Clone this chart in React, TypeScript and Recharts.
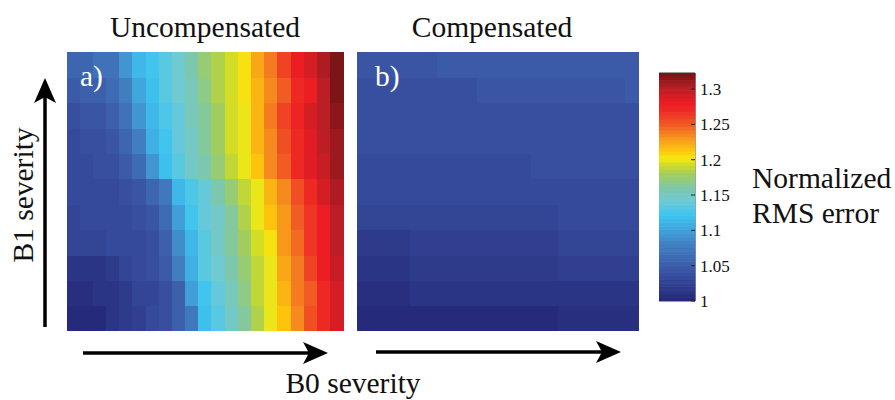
import React from 'react'
import { BarChart, Bar, Cell, XAxis, YAxis, ReferenceArea } from 'recharts'

const FONT = "'Liberation Serif', LiberationSerif, Tinos, 'Nimbus Roman', 'Nimbus Roman No9 L', FreeSerif, 'Noto Serif', 'DejaVu Serif', Times, 'Times New Roman', serif"

// colour scale of the figure (jet, print colours)
const CMAP_MIN = 1
const CMAP_MAX = 1.3227
const CMAP_LEVELS = 64
const cbTicks = [1, 1.05, 1.1, 1.15, 1.2, 1.25, 1.3]

const jetStops: [number, string][] = [
  [0.0, '#262a7a'],
  [0.125, '#3a54a4'],
  [0.25, '#4182c3'],
  [0.33, '#40aee3'],
  [0.375, '#3dc5f0'],
  [0.44, '#6ecad6'],
  [0.5, '#7fc8a6'],
  [0.56, '#a4cd5a'],
  [0.6, '#cfdb27'],
  [0.625, '#f4ea14'],
  [0.66, '#fec90b'],
  [0.72, '#f7941d'],
  [0.78, '#f15a24'],
  [0.84, '#ee2a24'],
  [0.875, '#ed1c24'],
  [0.94, '#b81e25'],
  [1.0, '#7c1517'],
]

// B0 severity steps (columns)
const b0Levels = ['1', '2', '3', '4', '5', '6', '7', '8', '9', '10', '11', '12', '13', '14', '15', '16', '17', '18', '19', '20', '21']

// normalized RMS error, rows listed from the top (highest B1) to the bottom
const uncompensated = [
  [1.060, 1.060, 1.068, 1.070, 1.095, 1.112, 1.125, 1.135, 1.145, 1.158, 1.172, 1.185, 1.195, 1.205, 1.222, 1.242, 1.260, 1.278, 1.288, 1.305, 1.322],
  [1.050, 1.052, 1.054, 1.062, 1.078, 1.105, 1.118, 1.132, 1.142, 1.155, 1.168, 1.182, 1.194, 1.202, 1.218, 1.235, 1.252, 1.268, 1.282, 1.302, 1.320],
  [1.040, 1.042, 1.045, 1.055, 1.066, 1.092, 1.115, 1.128, 1.140, 1.152, 1.165, 1.180, 1.192, 1.200, 1.220, 1.240, 1.258, 1.274, 1.288, 1.300, 1.315],
  [1.035, 1.037, 1.040, 1.045, 1.058, 1.080, 1.110, 1.125, 1.138, 1.150, 1.163, 1.178, 1.192, 1.201, 1.218, 1.235, 1.255, 1.270, 1.285, 1.298, 1.312],
  [1.033, 1.034, 1.036, 1.040, 1.048, 1.062, 1.095, 1.118, 1.135, 1.148, 1.160, 1.175, 1.190, 1.200, 1.215, 1.232, 1.250, 1.268, 1.284, 1.296, 1.310],
  [1.033, 1.033, 1.034, 1.034, 1.036, 1.044, 1.058, 1.075, 1.113, 1.130, 1.140, 1.157, 1.172, 1.188, 1.200, 1.218, 1.234, 1.255, 1.270, 1.290, 1.305],
  [1.030, 1.031, 1.032, 1.033, 1.034, 1.036, 1.045, 1.062, 1.098, 1.122, 1.138, 1.150, 1.165, 1.185, 1.197, 1.212, 1.228, 1.250, 1.265, 1.282, 1.300],
  [1.030, 1.030, 1.030, 1.031, 1.032, 1.033, 1.040, 1.053, 1.088, 1.115, 1.135, 1.147, 1.162, 1.180, 1.194, 1.205, 1.228, 1.243, 1.265, 1.280, 1.298],
  [1.012, 1.012, 1.015, 1.020, 1.030, 1.032, 1.036, 1.050, 1.078, 1.110, 1.132, 1.143, 1.157, 1.176, 1.190, 1.200, 1.222, 1.237, 1.258, 1.280, 1.293],
  [1.009, 1.009, 1.012, 1.015, 1.020, 1.026, 1.030, 1.040, 1.052, 1.100, 1.123, 1.138, 1.152, 1.167, 1.187, 1.200, 1.218, 1.237, 1.252, 1.270, 1.292],
  [1.003, 1.004, 1.005, 1.013, 1.018, 1.025, 1.032, 1.038, 1.052, 1.072, 1.117, 1.133, 1.147, 1.165, 1.185, 1.200, 1.212, 1.232, 1.253, 1.270, 1.288],
]

const compensated = [
  [1.042, 1.042, 1.042, 1.042, 1.042, 1.042, 1.046, 1.046, 1.046, 1.046, 1.046, 1.046, 1.046, 1.046, 1.046, 1.046, 1.046, 1.046, 1.050, 1.050, 1.050],
  [1.040, 1.040, 1.040, 1.040, 1.040, 1.040, 1.040, 1.040, 1.040, 1.044, 1.044, 1.044, 1.044, 1.044, 1.044, 1.044, 1.044, 1.044, 1.044, 1.044, 1.047],
  [1.038, 1.038, 1.038, 1.038, 1.038, 1.038, 1.038, 1.038, 1.038, 1.039, 1.039, 1.039, 1.039, 1.039, 1.039, 1.039, 1.039, 1.039, 1.039, 1.039, 1.039],
  [1.036, 1.036, 1.036, 1.036, 1.036, 1.036, 1.036, 1.036, 1.036, 1.037, 1.037, 1.037, 1.037, 1.037, 1.037, 1.037, 1.037, 1.037, 1.037, 1.037, 1.037],
  [1.034, 1.034, 1.034, 1.034, 1.034, 1.034, 1.034, 1.034, 1.034, 1.034, 1.034, 1.034, 1.034, 1.036, 1.036, 1.036, 1.036, 1.036, 1.036, 1.036, 1.036],
  [1.032, 1.032, 1.032, 1.032, 1.032, 1.032, 1.032, 1.032, 1.032, 1.032, 1.032, 1.032, 1.032, 1.032, 1.035, 1.035, 1.035, 1.035, 1.035, 1.035, 1.035],
  [1.030, 1.030, 1.030, 1.030, 1.030, 1.030, 1.030, 1.030, 1.030, 1.030, 1.030, 1.030, 1.030, 1.030, 1.030, 1.033, 1.033, 1.033, 1.033, 1.033, 1.033],
  [1.018, 1.018, 1.018, 1.018, 1.024, 1.024, 1.024, 1.024, 1.024, 1.024, 1.024, 1.024, 1.024, 1.024, 1.024, 1.030, 1.030, 1.030, 1.030, 1.030, 1.030],
  [1.013, 1.013, 1.013, 1.013, 1.018, 1.018, 1.018, 1.018, 1.018, 1.018, 1.018, 1.018, 1.018, 1.018, 1.018, 1.024, 1.024, 1.024, 1.024, 1.024, 1.024],
  [1.008, 1.008, 1.008, 1.008, 1.011, 1.011, 1.011, 1.011, 1.011, 1.011, 1.011, 1.011, 1.011, 1.011, 1.011, 1.014, 1.014, 1.014, 1.014, 1.014, 1.014],
  [1.005, 1.005, 1.005, 1.005, 1.005, 1.005, 1.005, 1.005, 1.005, 1.005, 1.005, 1.005, 1.005, 1.005, 1.005, 1.009, 1.009, 1.009, 1.009, 1.009, 1.009],
]

function hexToRgb(h: string) {
  const n = parseInt(h.slice(1), 16)
  return [(n >> 16) & 255, (n >> 8) & 255, n & 255]
}

function jet(t: number) {
  const x = Math.max(0, Math.min(1, t))
  for (let i = 1; i < jetStops.length; i++) {
    const [t1, c1] = jetStops[i]
    const [t0, c0] = jetStops[i - 1]
    if (x <= t1) {
      const f = (x - t0) / (t1 - t0)
      const a = hexToRgb(c0)
      const b = hexToRgb(c1)
      const m = a.map((v, k) => Math.round(v + (b[k] - v) * f))
      return `rgb(${m[0]},${m[1]},${m[2]})`
    }
  }
  return jetStops[jetStops.length - 1][1]
}

// value -> one of the 64 colormap levels
function colorFor(v: number) {
  const idx = Math.min(CMAP_LEVELS - 1, Math.max(0, Math.floor(((v - CMAP_MIN) / (CMAP_MAX - CMAP_MIN)) * CMAP_LEVELS)))
  return jet(idx / (CMAP_LEVELS - 1))
}

function Heatmap({ rows, width, height }: { rows: number[][]; width: number; height: number }) {
  const bottomUp = [...rows].reverse()
  const data = b0Levels.map((b0) => {
    const d: any = { b0 }
    bottomUp.forEach((_, r) => { d[`r${r}`] = 1 })
    return d
  })
  return (
    <BarChart width={width} height={height} data={data} margin={{ top: 0, right: 0, bottom: 0, left: 0 }} barCategoryGap={0} barGap={0}>
      <XAxis dataKey="b0" hide />
      <YAxis hide domain={[0, bottomUp.length]} />
      {bottomUp.map((vals, r) => (
        <Bar key={r} dataKey={`r${r}`} stackId="cells" isAnimationActive={false}>
          {vals.map((v, c) => (
            <Cell key={c} fill={colorFor(v)} stroke={colorFor(v)} strokeWidth={1.2} shapeRendering="crispEdges" />
          ))}
        </Bar>
      ))}
    </BarChart>
  )
}

function Colorbar() {
  const step = (CMAP_MAX - CMAP_MIN) / CMAP_LEVELS
  const row: any = { name: 'cb', base: CMAP_MIN }
  const levels = Array.from({ length: CMAP_LEVELS }, (_, i) => i)
  levels.forEach((i) => { row[`l${i}`] = step })
  const tickFont = { fill: '#111', fontSize: 17, fontFamily: FONT }
  return (
    <BarChart width={86} height={248} data={[row]} margin={{ top: 10, right: 0, bottom: 10, left: 0 }} barCategoryGap={0}>
      <XAxis dataKey="name" hide />
      <YAxis
        yAxisId="edge"
        orientation="left"
        width={0}
        domain={[CMAP_MIN, CMAP_MAX]}
        allowDataOverflow
        ticks={cbTicks}
        tick={false}
        tickSize={-4}
        axisLine={false}
        tickLine={{ stroke: '#222', strokeWidth: 1 }}
      />
      <YAxis
        orientation="right"
        width={50}
        domain={[CMAP_MIN, CMAP_MAX]}
        allowDataOverflow
        ticks={cbTicks}
        interval={0}
        tickSize={-4}
        tickMargin={9}
        axisLine={false}
        tickLine={{ stroke: '#222', strokeWidth: 1 }}
        tick={tickFont}
        tickFormatter={(v: number) => String(v)}
      />
      <Bar dataKey="base" stackId="cb" fill="none" isAnimationActive={false} />
      {levels.map((i) => (
        <Bar
          key={i}
          dataKey={`l${i}`}
          stackId="cb"
          fill={jet(i / (CMAP_LEVELS - 1))}
          stroke={jet(i / (CMAP_LEVELS - 1))}
          strokeWidth={0.8}
          isAnimationActive={false}
        />
      ))}
      <ReferenceArea y1={CMAP_MIN} y2={CMAP_MAX} fill="none" stroke="#3a3a3a" strokeWidth={1} ifOverflow="visible" />
    </BarChart>
  )
}

function Arrow({ x1, y1, x2, y2 }: { x1: number; y1: number; x2: number; y2: number }) {
  // straight shaft plus a notched head pointing at (x2, y2)
  const len = Math.hypot(x2 - x1, y2 - y1)
  const ux = (x2 - x1) / len
  const uy = (y2 - y1) / len
  const px = -uy
  const py = ux
  const headLen = 25
  const halfW = 11
  const notch = 6
  const bx = x2 - ux * headLen
  const by = y2 - uy * headLen
  const nx = x2 - ux * (headLen - notch)
  const ny = y2 - uy * (headLen - notch)
  const pts = [
    [x2, y2],
    [bx + px * halfW, by + py * halfW],
    [nx, ny],
    [bx - px * halfW, by - py * halfW],
  ].map((p) => p.join(',')).join(' ')
  return (
    <g>
      <line x1={x1} y1={y1} x2={nx} y2={ny} stroke="#000" strokeWidth={3.5} />
      <polygon points={pts} fill="#000" />
    </g>
  )
}

export default function App() {
  const fs = 29.5
  const ink = '#111'
  return (
    <div style={{ position: 'absolute', left: 0, top: 0, width: 895, height: 400, background: '#fff', overflow: 'hidden', fontFamily: FONT }}>
      <div style={{ position: 'absolute', left: 67, top: 52 }}>
        <Heatmap rows={uncompensated} width={277} height={279} />
      </div>
      <div style={{ position: 'absolute', left: 357, top: 52 }}>
        <Heatmap rows={compensated} width={282} height={279} />
      </div>
      <div style={{ position: 'absolute', left: 659, top: 63 }}>
        <Colorbar />
      </div>
      <svg width={895} height={400} style={{ position: 'absolute', left: 0, top: 0, pointerEvents: 'none' }}>
        <text x={205} y={37} textAnchor="middle" fontFamily={FONT} fontSize={fs} fill={ink}>Uncompensated</text>
        <text x={492} y={37} textAnchor="middle" fontFamily={FONT} fontSize={fs} fill={ink}>Compensated</text>
        <text x={80} y={86} fontFamily={FONT} fontSize={fs} fill="#fff">a)</text>
        <text x={375} y={86} fontFamily={FONT} fontSize={fs} fill="#fff">b)</text>
        <text x={752} y={188} fontFamily={FONT} fontSize={fs} fill={ink}>Normalized</text>
        <text x={752} y={223} fontFamily={FONT} fontSize={fs} fill={ink}>RMS error</text>
        <text transform="translate(33,195) rotate(-90)" textAnchor="middle" fontFamily={FONT} fontSize={fs} fill={ink}>B1 severity</text>
        <text x={353} y={393} textAnchor="middle" fontFamily={FONT} fontSize={fs} fill={ink}>B0 severity</text>
        <Arrow x1={45} y1={327} x2={45} y2={78} />
        <Arrow x1={83} y1={353} x2={328} y2={353} />
        <Arrow x1={376} y1={352} x2={621} y2={352} />
      </svg>
    </div>
  )
}
